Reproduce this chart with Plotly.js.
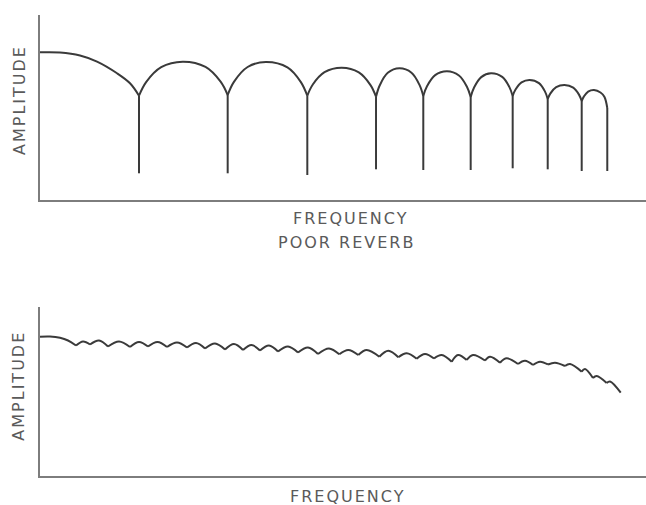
<!DOCTYPE html>
<html>
<head>
<meta charset="utf-8">
<script src="https://cdn.plot.ly/plotly-3.0.1.min.js"></script>
<style>
  html, body { margin: 0; padding: 0; background: #fff; }
  #chart { width: 646px; height: 505px; }
  .annotation-text { letter-spacing: 2px; }
</style>
</head>
<body>
<div id="chart"></div>
<script>
// ---- Top panel ("poor reverb"): comb-filter arches, null separates arches ----
const topFreq = [
  0, 3.30, 6.60, 9.41, 12.71, 14.85, 16.34, null,
  16.34, 17.51, 20.00, 23.55, 27.31, 29.80, 30.97, null,
  30.97, 32.03, 34.26, 37.29, 40.83, 43.05, 44.11, null,
  44.11, 45.02, 46.95, 49.79, 52.61, 54.54, 55.45, null,
  55.45, 56.07, 57.39, 59.32, 61.30, 62.62, 63.25, null,
  63.25, 63.88, 65.21, 67.16, 69.13, 70.45, 71.07, null,
  71.07, 71.63, 72.81, 74.42, 76.27, 77.44, 78.00, null,
  78.00, 78.47, 79.46, 80.78, 82.34, 83.32, 83.78, null,
  83.78, 84.23, 85.18, 86.55, 87.99, 88.94, 89.39, null,
  89.39, 89.74, 90.45, 91.42, 92.49, 93.15, 93.61
];
const topAmp = [
  79.8, 79.7, 78.1, 74.8, 68.5, 63.1, 56.38, null,
  56.38, 63.73, 71.80, 74.76, 71.90, 63.95, 56.76, null,
  56.76, 64.00, 71.89, 74.59, 71.67, 63.73, 56.38, null,
  56.38, 62.43, 69.08, 71.51, 68.97, 62.11, 55.84, null,
  55.84, 62.00, 68.75, 71.19, 68.80, 62.22, 56.22, null,
  56.22, 61.57, 67.47, 69.57, 67.31, 61.24, 55.68, null,
  55.68, 60.81, 66.43, 68.49, 66.53, 61.14, 56.22, null,
  56.22, 59.68, 63.54, 64.86, 63.16, 58.70, 54.59, null,
  54.59, 57.62, 60.98, 62.16, 60.76, 56.97, 53.51, null,
  53.51, 55.89, 58.60, 59.46, 58.11, 55.68, 49.73
];
// notch positions (vertical drops) with their top and bottom amplitude
const notchFreq   = [16.34, 30.97, 44.11, 55.45, 63.25, 71.07, 78.00, 83.78, 89.39, 93.61];
const notchTop    = [56.38, 56.76, 56.38, 55.84, 56.22, 55.68, 56.22, 54.59, 53.51, 49.73];
const notchBottom = [14.43, 14.43, 13.51, 16.59, 16.22, 16.22, 17.14, 16.59, 15.68, 15.68];

// ---- Bottom panel (good reverb): small ripples ----
const startFreq = [0, 1.65, 3.30, 4.62, 5.94];
const startAmp  = [82.43, 82.54, 81.78, 80.18, 77.22];
const dipFreq = [5.94, 8.25, 11.22, 14.85, 17.82, 20.96, 24.26, 27.23, 30.53, 33.50,
  36.30, 39.27, 42.57, 45.87, 49.39, 52.52, 55.99, 59.13, 62.16, 65.02,
  67.94, 70.41, 73.43, 75.91, 78.88, 81.35, 83.83, 86.63, 89.39, 91.25, 93.51, 95.83];
const dipAmp = [77.22, 77.81, 76.63, 76.33, 76.63, 76.33, 76.04, 75.44, 74.85, 74.56,
  74.26, 73.67, 73.08, 72.19, 72.01, 71.60, 70.59, 70.24, 69.41, 69.53,
  67.63, 68.64, 68.34, 67.04, 66.27, 65.68, 65.98, 65.09, 61.72, 57.99, 55.03, 49.29];
const peakFreq = [7.10, 9.74, 13.04, 16.34, 19.39, 22.61, 25.74, 28.88, 32.01, 34.90,
  37.79, 40.92, 44.22, 47.69, 50.87, 53.91, 57.48, 60.51, 63.53, 66.29,
  68.98, 71.45, 74.26, 77.01, 80.03, 82.51, 84.98, 87.46, 89.93, 91.86, 94.06];
const peakAmp = [79.59, 80.18, 79.59, 79.29, 79.29, 78.99, 78.70, 78.40, 78.11, 77.51,
  77.22, 76.63, 76.04, 75.44, 74.56, 74.56, 74.14, 72.60, 72.19, 71.60,
  71.60, 71.60, 70.59, 69.64, 68.22, 67.63, 67.04, 66.27, 63.31, 59.17, 55.92];

// text
const xLabel = 'FREQUENCY';
const yLabel = 'AMPLITUDE';
const caption = 'POOR REVERB';

// build traces
const vx = [], vy = [];
notchFreq.forEach((f, i) => { vx.push(f, f, null); vy.push(notchTop[i], notchBottom[i], null); });

const bx = startFreq.slice(), by = startAmp.slice();
bx.push(null); by.push(null);
for (let i = 0; i < peakFreq.length; i++) {
  bx.push(dipFreq[i], peakFreq[i], dipFreq[i + 1], null);
  by.push(dipAmp[i], peakAmp[i], dipAmp[i + 1], null);
}

const curveLine = {color: '#3a3a3a', width: 2, shape: 'spline', smoothing: 1};
const traces = [
  {x: topFreq, y: topAmp, mode: 'lines', line: curveLine, xaxis: 'x', yaxis: 'y', hoverinfo: 'skip'},
  {x: vx, y: vy, mode: 'lines', line: {color: '#3a3a3a', width: 2}, xaxis: 'x', yaxis: 'y', hoverinfo: 'skip'},
  {x: bx, y: by, mode: 'lines', line: {color: '#3a3a3a', width: 2, shape: 'spline', smoothing: 1}, xaxis: 'x2', yaxis: 'y2', hoverinfo: 'skip'}
];

const axisCommon = {showline: true, linecolor: '#7d7d7d', linewidth: 2, showgrid: false,
  zeroline: false, showticklabels: false, ticks: '', fixedrange: true};
const txtFont = {family: 'DejaVu Sans, Liberation Sans, sans-serif', size: 16, color: '#5a5a5a'};

const layout = {
  width: 646, height: 505,
  margin: {l: 40, r: 0, t: 15, b: 29, pad: 0},
  paper_bgcolor: '#ffffff', plot_bgcolor: '#ffffff',
  showlegend: false,
  xaxis: Object.assign({}, axisCommon, {range: [0, 100], domain: [0, 1], anchor: 'y'}),
  yaxis: Object.assign({}, axisCommon, {range: [0, 100], domain: [0.5987, 1], anchor: 'x'}),
  xaxis2: Object.assign({}, axisCommon, {range: [0, 100], domain: [0, 1], anchor: 'y2'}),
  yaxis2: Object.assign({}, axisCommon, {range: [0, 100], domain: [0, 0.3666], anchor: 'x2'}),
  annotations: [
    {text: xLabel, xref: 'paper', yref: 'paper', x: 0.5116, y: 0.5575, xanchor: 'center', yanchor: 'middle', showarrow: false, font: txtFont},
    {text: caption, xref: 'paper', yref: 'paper', x: 0.5066, y: 0.5075, xanchor: 'center', yanchor: 'middle', showarrow: false, font: txtFont},
    {text: xLabel, xref: 'paper', yref: 'paper', x: 0.508, y: -0.0434, xanchor: 'center', yanchor: 'middle', showarrow: false, font: txtFont},
    {text: yLabel, xref: 'paper', yref: 'paper', x: -0.0347, y: 0.8156, xanchor: 'center', yanchor: 'middle', textangle: -90, showarrow: false, font: txtFont},
    {text: yLabel, xref: 'paper', yref: 'paper', x: -0.0347, y: 0.1959, xanchor: 'center', yanchor: 'middle', textangle: -90, showarrow: false, font: txtFont}
  ]
};

Plotly.newPlot('chart', traces, layout, {displayModeBar: false, staticPlot: true});
</script>
</body>
</html>
